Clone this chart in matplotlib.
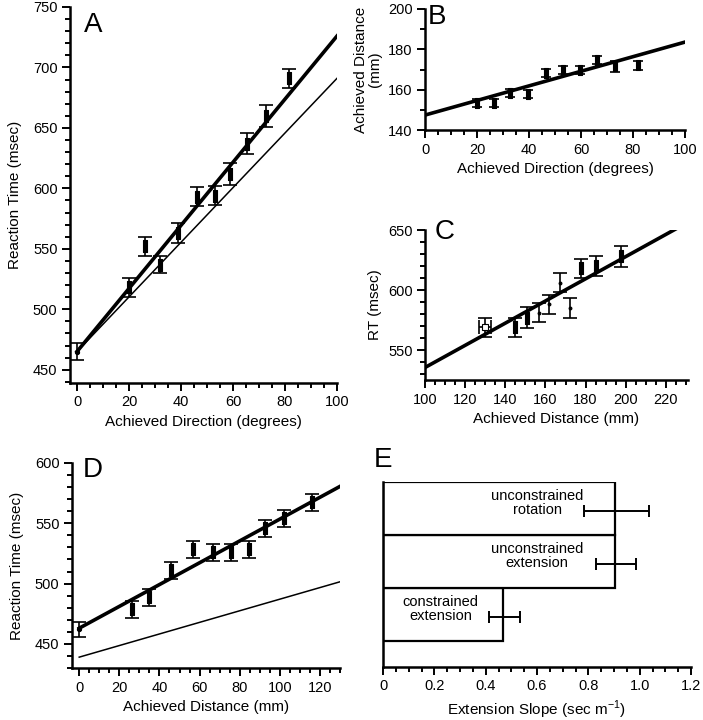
import numpy as np
import matplotlib
matplotlib.use("Agg")
import matplotlib.pyplot as plt
from matplotlib.ticker import MultipleLocator

plt.rcParams['font.family'] = ['Liberation Sans', 'DejaVu Sans']

# panel A: RT vs achieved direction
a_x = [0, 20, 26, 32, 39, 46, 53, 59, 65.5, 72.5, 81.5]
a_y = [465, 518, 552, 537, 563, 593, 594, 612, 637, 660, 691]
a_err = [7, 8, 8, 7, 8, 8, 8, 9, 9, 9, 8]
a_fit = [465, 726]      # thick line at x = 0, 100
a_pred = [465, 691]     # thin line at x = 0, 100

# panel B: achieved distance vs achieved direction
b_x = [20, 26.5, 32.5, 39.5, 46.5, 53, 59.5, 66, 73, 82]
b_y = [153.6, 153.6, 158.2, 157.7, 168.2, 169.8, 169.8, 174.8, 171.5, 172]
b_err = [2, 2, 2, 2, 2, 2, 2, 2, 2.5, 2]
b_fit = [147.4, 183.6]  # x = 0, 100

# panel C: RT vs achieved distance
c_x = [145, 151, 177.5, 185, 197.5]
c_y = [569, 577, 618, 620, 628]
c_err = [8, 9, 8, 8, 9]
c2_x = [157, 162, 167, 172]
c2_y = [581, 588, 606, 585]
c2_err = [8, 8, 8, 8]
c3_x, c3_y, c3_err, c3_xerr = [130], [569], [8], [3]
c_fit_x = [100, 227]
c_fit = [535.4, 652.8]

# panel D: RT vs achieved distance
d_x = [0, 26.5, 35, 46, 56.5, 66.5, 75.5, 84.5, 92.5, 102, 116]
d_y = [462, 478.8, 488.5, 511, 528.6, 526, 526, 528.6, 546, 554, 567.5]
d_err = [6, 7, 7, 7, 7, 7, 7, 7, 7, 7, 7]
d_fit = [463, 580.6]    # x = 0, 130
d_pred = [439, 501.5]

# panel E: extension slopes
e_labels = ["constrained\nextension", "unconstrained\nextension", "unconstrained\nrotation"]
e_val = [0.469, 0.902, 0.905]
e_lo = [0.414, 0.829, 0.785]
e_hi = [0.534, 0.984, 1.037]

fig = plt.figure(figsize=(7.03, 7.2), dpi=100)

bar_marker = [(-0.42, -1), (0.42, -1), (0.42, 1), (-0.42, 1), (-0.42, -1)]
TICK = 10.5
LAB = 11
LET = 20


def style(ax):
    for s in ['top', 'right']:
        ax.spines[s].set_visible(False)
    for s in ['left', 'bottom']:
        ax.spines[s].set_linewidth(1.8)
    ax.tick_params(which='major', direction='out', length=6, width=1.4, labelsize=TICK, pad=3)
    ax.tick_params(which='minor', direction='out', length=3.5, width=1.4)


def errpts(ax, x, y, e, ms=8, marker=bar_marker, xerr=None, mfc='black', cap=5):
    ax.errorbar(x, y, yerr=e, xerr=xerr, fmt='none', ecolor='black',
                elinewidth=1.2, capsize=cap, capthick=1.2, zorder=3)
    ax.plot(x, y, linestyle='none', marker=marker, ms=ms, mfc=mfc,
            mec='black', mew=0.8, zorder=4)


# ---- A
axA = fig.add_axes([70/703, 1-383/720, 267/703, 376/720])
style(axA)
axA.plot([0, 100], a_fit, color='black', lw=2.6, zorder=2)
axA.plot([0, 100], a_pred, color='black', lw=1.1, zorder=2)
errpts(axA, a_x[1:], a_y[1:], a_err[1:])
errpts(axA, a_x[:1], a_y[:1], a_err[:1], ms=3, marker='o')
axA.set_xlim(-2.7, 100)
axA.set_ylim(439, 750)
axA.xaxis.set_major_locator(MultipleLocator(20))
axA.xaxis.set_minor_locator(MultipleLocator(5))
axA.yaxis.set_major_locator(MultipleLocator(50))
axA.yaxis.set_minor_locator(MultipleLocator(10))
axA.set_xlabel("Achieved Direction (degrees)", fontsize=LAB)
axA.set_ylabel("Reaction Time (msec)", fontsize=LAB, labelpad=8)
fig.text(93/703, 1-25/720, "A", fontsize=LET, ha='center', va='center')

# ---- B
axB = fig.add_axes([425/703, 1-130/720, 260/703, 121/720])
style(axB)
axB.plot([0, 100], b_fit, color='black', lw=2.6, zorder=2)
errpts(axB, b_x, b_y, b_err, ms=7, cap=3.5)
axB.set_xlim(0, 100)
axB.set_ylim(140, 200)
axB.xaxis.set_major_locator(MultipleLocator(20))
axB.xaxis.set_minor_locator(MultipleLocator(5))
axB.yaxis.set_major_locator(MultipleLocator(20))
axB.yaxis.set_minor_locator(MultipleLocator(10))
axB.set_xlabel("Achieved Direction (degrees)", fontsize=LAB)
axB.set_ylabel("Achieved Distance\n(mm)", fontsize=LAB, linespacing=1.0)
fig.text(437/703, 1-17/720, "B", fontsize=LET, ha='center', va='center')

# ---- C
axC = fig.add_axes([425/703, 1-380/720, 263/703, 150/720])
style(axC)
axC.plot(c_fit_x, c_fit, color='black', lw=2.6, zorder=2)
errpts(axC, c_x, c_y, c_err)
errpts(axC, c2_x, c2_y, c2_err, ms=2, marker='o')
errpts(axC, c3_x, c3_y, c3_err, ms=5, marker='s', xerr=c3_xerr, mfc='white')
axC.set_xlim(100, 231)
axC.set_ylim(525, 650)
axC.xaxis.set_major_locator(MultipleLocator(20))
axC.xaxis.set_minor_locator(MultipleLocator(5))
axC.yaxis.set_major_locator(MultipleLocator(50))
axC.yaxis.set_minor_locator(MultipleLocator(10))
axC.set_xlabel("Achieved Distance (mm)", fontsize=LAB)
axC.set_ylabel("RT (msec)", fontsize=LAB)
fig.text(445/703, 1-232/720, "C", fontsize=LET, ha='center', va='center')

# ---- D
axD = fig.add_axes([72/703, 1-668/720, 268/703, 205/720])
style(axD)
axD.plot([0, 130], d_fit, color='black', lw=2.6, zorder=2)
axD.plot([0, 130], d_pred, color='black', lw=1.1, zorder=2)
errpts(axD, d_x[1:], d_y[1:], d_err[1:])
errpts(axD, d_x[:1], d_y[:1], d_err[:1], ms=3, marker='o')
axD.set_xlim(-3.6, 130)
axD.set_ylim(430, 600)
axD.xaxis.set_major_locator(MultipleLocator(20))
axD.xaxis.set_minor_locator(MultipleLocator(5))
axD.yaxis.set_major_locator(MultipleLocator(50))
axD.yaxis.set_minor_locator(MultipleLocator(10))
axD.set_xlabel("Achieved Distance (mm)", fontsize=LAB)
axD.set_ylabel("Reaction Time (msec)", fontsize=LAB, labelpad=8)
fig.text(93/703, 1-470/720, "D", fontsize=LET, ha='center', va='center')

# ---- E
axE = fig.add_axes([383/703, 1-667/720, 308/703, 185/720])
style(axE)
pos = np.arange(len(e_val))
axE.barh(pos, e_val, height=1.0, color='white', edgecolor='black', linewidth=1.6)
mid = (np.array(e_lo) + np.array(e_hi)) / 2
axE.errorbar(mid, pos - 0.05, xerr=(np.array(e_hi) - np.array(e_lo)) / 2, fmt='none',
             ecolor='black', elinewidth=1.4, capsize=4, capthick=1.4)
txt_x = [0.225, 0.6, 0.6]
for p, lab, tx in zip(pos, e_labels, txt_x):
    axE.text(tx, p + 0.1, lab, ha='center', va='center', fontsize=10.5, linespacing=1.0)
axE.set_xlim(0, 1.2)
axE.set_ylim(-1.0, 2.5)
axE.set_yticks([])
axE.xaxis.set_minor_locator(MultipleLocator(0.05))
axE.set_xticks([0, 0.2, 0.4, 0.6, 0.8, 1.0, 1.2])
axE.set_xticklabels(["0", "0.2", "0.4", "0.6", "0.8", "1.0", "1.2"])
axE.set_xlabel("Extension Slope (sec m$^{\\mathregular{-1}}$)", fontsize=LAB)
fig.text(383/703, 1-460/720, "E", fontsize=LET, ha='center', va='center')

fig.savefig("out.png", dpi=100)
